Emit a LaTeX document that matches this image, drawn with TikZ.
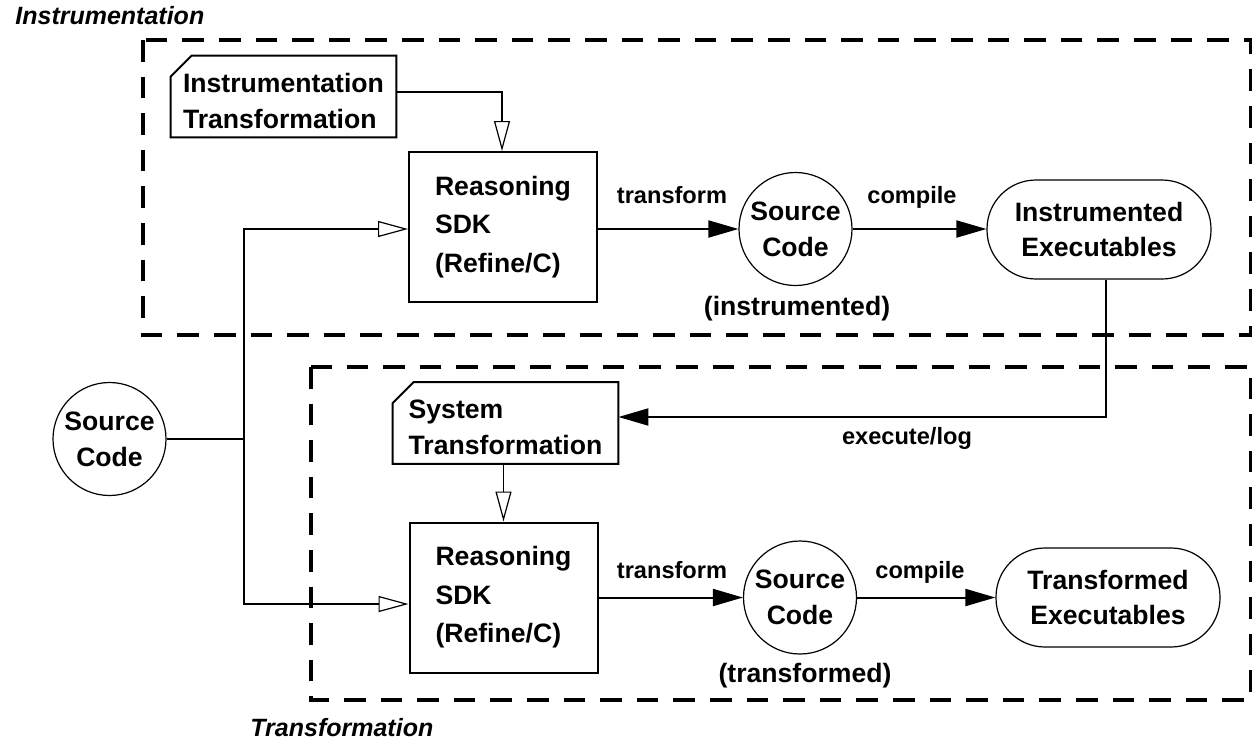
\documentclass[tikz,border=0pt]{standalone}
\usepackage{fontspec}
\setmainfont{Liberation Sans}
\usetikzlibrary{arrows.meta}

\begin{document}
\begin{tikzpicture}[x=0.5pt,y=-0.5pt,
  every node/.style={inner sep=0pt, font=\fontsize{13.3}{18}\selectfont\bfseries},
  titlelbl/.style={anchor=base west, font=\fontsize{12.5}{15}\selectfont\bfseries\itshape},
  edgelbl/.style={anchor=base, font=\fontsize{11.8}{14}\selectfont\bfseries},
  caplbl/.style={anchor=base, font=\fontsize{13.3}{16}\selectfont\bfseries},
  dashbox/.style={line width=1.6pt, dash pattern=on 10.8pt off 7.5pt},
  mainbox/.style={draw, line width=1pt, minimum width=94pt, minimum height=75pt, align=left,
    font=\fontsize{13.3}{19.25}\selectfont\bfseries},
  circ/.style={draw, circle, line width=0.6pt, minimum size=56.5pt, align=center},
  rexe/.style={draw, rounded corners=24.5pt, line width=0.6pt, minimum width=112pt, minimum height=49.5pt,
    align=center, font=\fontsize{13.3}{17.5}\selectfont\bfseries},
  notebox/.style={minimum width=112.5pt, minimum height=40.5pt, align=left},
  noteline/.style={line width=1pt},
  conn/.style={line width=1pt},
  filled/.style={conn, -{Triangle[length=15pt,width=8.5pt]}},
  openarr/.style={conn, -{Triangle[open,length=15pt,width=8pt,line width=0.6pt,fill=white]}}
]
\useasboundingbox (0,0) rectangle (1252,740);

% titles
\node[titlelbl] (tinstr) at (15,24) {Instrumentation};
\node[titlelbl] (ttrans) at (250,736) {Transformation};

% dashed frames
\draw[dashbox] (143,40) rectangle (1251,335);
\draw[dashbox] (311,367) rectangle (1251,700);

% notes (text sits a little below the middle of the outline)
\node[notebox] (note1) at (283.5,100.5) {Instrumentation\\Transformation};
\node[notebox] (note2) at (505.5,427) {System\\Transformation};
\draw[noteline] ([yshift=-8.5pt]note1.north west) -- ([xshift=10.5pt,yshift=2pt]note1.north west) -- ([yshift=2pt]note1.north east) -- ([yshift=2pt]note1.south east) -- ([yshift=2pt]note1.south west) -- cycle;
\draw[noteline] ([yshift=-8.5pt]note2.north west) -- ([xshift=10.5pt,yshift=2pt]note2.north west) -- ([yshift=2pt]note2.north east) -- ([yshift=2pt]note2.south east) -- ([yshift=2pt]note2.south west) -- cycle;

\node[mainbox] (box1) at (503,227) {Reasoning\\SDK\\(Refine/C)};
\node[mainbox] (box2) at (503.5,597.5) {Reasoning\\SDK\\(Refine/C)};

\node[circ] (src) at (109.5,439) {Source\\Code};
\node[circ] (srcI) at (795.5,229) {Source\\Code};
\node[circ] (srcT) at (800,597.5) {Source\\Code};

\node[rexe] (insexe) at (1099,229.5) {Instrumented\\Executables};
\node[rexe] (trexe) at (1108,597.5) {Transformed\\Executables};

% labels
\node[edgelbl] (lt1) at (672,203) {transform};
\node[edgelbl] (lc1) at (912,203) {compile};
\node[edgelbl] (lt2) at (672,578) {transform};
\node[edgelbl] (lc2) at (920,578) {compile};
\node[edgelbl] (lexe) at (907,444) {execute/log};
\node[caplbl] (linst) at (797,315) {(instrumented)};
\node[caplbl] (ltr) at (805,682) {(transformed)};

% connectors
\coordinate (j1) at (502,92);
\draw[openarr] (note1.east |- j1) -- (j1) -- (j1 |- box1.north);

\coordinate (tm) at (244,439);
\coordinate (t1) at (244,229);
\coordinate (t2) at (244,604);
\draw[conn] (src.east) -- (tm);
\draw[openarr] (tm) -- (t1) -- (t1 -| box1.west);
\draw[openarr] (tm) -- (t2) -- (t2 -| box2.west);

\draw[filled] (box1.east |- srcI.west) -- (srcI.west);
\draw[filled] (srcI.east) -- (srcI.east -| insexe.west);

\coordinate (e1) at (1106,417);
\draw[filled] (e1 |- insexe.south) -- (e1) -- (e1 -| note2.east);

\draw[openarr, line width=0.6pt] ([yshift=2pt]note2.south -| box2.north) -- (box2.north);

\draw[filled] (box2.east |- srcT.west) -- (srcT.west);
\draw[filled] (srcT.east) -- (srcT.east -| trexe.west);
\end{tikzpicture}
\end{document}
